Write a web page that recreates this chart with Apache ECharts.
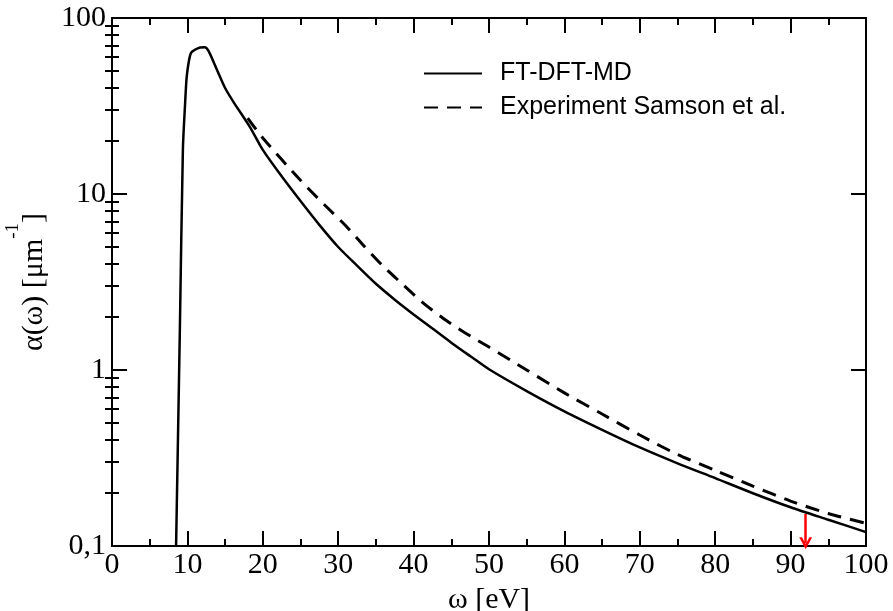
<!DOCTYPE html>
<html>
<head>
<meta charset="utf-8">
<script src="https://cdn.jsdelivr.net/npm/echarts@6/dist/echarts.min.js"></script>
<style>
  html, body { margin: 0; padding: 0; background: #fff; }
  #chart { width: 893px; height: 611px; }
</style>
</head>
<body>
<div id="chart"></div>
<script>
// FT-DFT-MD absorption, [omega eV, alpha 1/um]
const ftDftMd = [
  [8.5, 0.1], [9.0, 1.7], [9.4, 17.8], [9.7, 33], [9.9, 46], [10.2, 57],
  [10.5, 63.5], [11.0, 66], [11.7, 68], [12.3, 68.3], [12.8, 65], [13.9, 51],
  [15.0, 40], [16.1, 33.4], [18.3, 24], [20, 17.8], [22.5, 12.6], [25, 9.12],
  [27.5, 6.68], [30, 5.0], [32.5, 3.92], [35, 3.09], [37.5, 2.51], [40, 2.07],
  [42.5, 1.72], [45, 1.43], [47.5, 1.2], [50, 1.01], [55, 0.759], [60, 0.582],
  [65, 0.457], [70, 0.363], [75, 0.295], [80, 0.243], [85, 0.1995], [90, 0.166],
  [95, 0.141], [100, 0.120]
];
// Samson et al. experiment
const samson = [
  [18, 27], [20, 20.8], [25, 11.96], [28.2, 8.66], [30.9, 6.67], [33.3, 5.13],
  [35.8, 3.95], [38.4, 3.11], [41.1, 2.44], [43.9, 1.97], [46.8, 1.63], [50, 1.35],
  [55, 1.0], [60, 0.741], [65, 0.562], [70, 0.427], [75, 0.331], [80, 0.269],
  [85, 0.219], [90, 0.18], [95, 0.153], [100, 0.1346]
];
const arrowX = 92;
const arrowFrom = 0.152;
const arrowTo = 0.1035;
const yMinorTicks = [0.2, 0.3, 0.4, 0.5, 0.6, 0.7, 0.8, 0.9, 2, 3, 4, 5, 6, 7, 8, 9, 20, 30, 40, 50, 60, 70, 80, 90];

const serif = 'Liberation Serif';
const sans = 'Liberation Sans';
const black = '#000';

const chart = echarts.init(document.getElementById('chart'));

const lineAxis = { show: true, onZero: false, lineStyle: { color: black, width: 2 } };
const majorTick = { show: true, inside: true, length: 15, lineStyle: { color: black, width: 2 } };
const minorTickY = { show: true, inside: true, length: 7, lineStyle: { color: black, width: 2 } };

function logAxis(position, labels, minor) {
  return {
    type: 'log',
    logBase: 10,
    min: 0.1,
    max: 100,
    position: position,
    axisLine: minor ? { show: false } : lineAxis,
    axisTick: minor ? Object.assign({ customValues: yMinorTicks }, minorTickY) : majorTick,
    splitLine: { show: false },
    axisLabel: labels ? {
      show: true,
      color: black,
      fontFamily: serif,
      fontSize: 30,
      margin: 6,
      formatter: v => {
        const r = Math.round(v * 10) / 10;
        return r === 0.1 ? '0,1' : String(Math.round(r));
      }
    } : { show: false }
  };
}

function valueAxis(position, labels) {
  return {
    type: 'value',
    min: 0,
    max: 100,
    interval: 10,
    position: position,
    axisLine: lineAxis,
    axisTick: majorTick,
    minorTick: { show: true, splitNumber: 2, length: 7, lineStyle: { color: black, width: 2 } },
    splitLine: { show: false },
    minorSplitLine: { show: false },
    axisLabel: labels ? {
      show: true, color: black, fontFamily: serif, fontSize: 30, margin: 4
    } : { show: false }
  };
}

const xBottom = valueAxis('bottom', true);
xBottom.name = 'ω [eV]';
xBottom.nameLocation = 'middle';
xBottom.nameGap = 31;
xBottom.nameTextStyle = { color: black, fontFamily: serif, fontSize: 30 };

const yLeft = logAxis('left', true, false);
yLeft.name = '{a|α(ω) [μm}{s|-1}{a|]}';
yLeft.nameLocation = 'middle';
yLeft.nameGap = 63;
yLeft.nameTextStyle = {
  color: black,
  rich: {
    a: { fontFamily: serif, fontSize: 30, color: black, lineHeight: 45, verticalAlign: 'bottom' },
    s: { fontFamily: serif, fontSize: 19, color: black, lineHeight: 45, verticalAlign: 'top' }
  }
};

const legendBase = {
  orient: 'vertical',
  padding: 0,
  itemWidth: 58,
  itemHeight: 14,
  itemStyle: { opacity: 0 },
  textStyle: { color: black, fontFamily: sans, fontSize: 25, padding: [0, 0, 0, 13] }
};

const option = {
  animation: false,
  backgroundColor: '#fff',
  grid: { left: 112, right: 27, top: 18, bottom: 65, containLabel: false, outerBoundsMode: 'none' },
  legend: [
    Object.assign({}, legendBase, { data: ['FT-DFT-MD'], left: 423, top: 61 }),
    Object.assign({}, legendBase, { data: ['Experiment Samson et al.'], left: 423, top: 95 })
  ],
  xAxis: [xBottom, valueAxis('top', false)],
  yAxis: [
    yLeft,
    logAxis('left', false, true),
    logAxis('right', false, false),
    logAxis('right', false, true)
  ],
  series: [
    {
      name: 'FT-DFT-MD',
      type: 'line',
      data: ftDftMd,
      symbol: 'none',
      smooth: 0.25,
      lineStyle: { color: black, width: 2.5 },
      itemStyle: { color: black },
      markLine: {
        silent: true,
        animation: false,
        symbol: ['none', 'path://M0,10 L6,0 L12,10 L9.4,10 L6,4.3 L2.6,10 Z'],
        symbolSize: [13, 12],
        label: { show: false },
        lineStyle: { color: '#ff0000', width: 2.5, type: 'solid' },
        data: [[{ coord: [arrowX, arrowFrom] }, { coord: [arrowX, arrowTo] }]]
      }
    },
    {
      name: 'Experiment Samson et al.',
      type: 'line',
      data: samson,
      symbol: 'none',
      smooth: 0.25,
      lineStyle: { color: black, width: 3, type: [14, 9] },
      itemStyle: { color: black }
    }
  ]
};

chart.setOption(option);
</script>
</body>
</html>
